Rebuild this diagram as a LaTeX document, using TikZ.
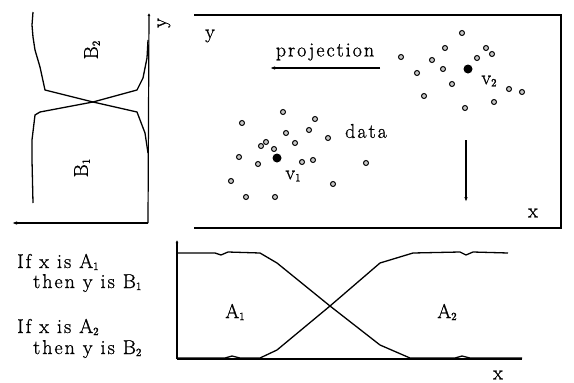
\documentclass[tikz,border=0pt]{standalone}
\usepackage{fontspec}
\setmainfont{Latin Modern Roman}[LetterSpace=10,FakeBold=1]
\usetikzlibrary{arrows.meta}

\newcommand{\sub}[1]{\raisebox{-2pt}{\fontsize{11}{11}\selectfont #1}}

\begin{document}
\begin{tikzpicture}[x=1pt,y=-1pt,>={Latex[length=5pt,width=3.5pt]},
    lbl/.style={font=\fontsize{20}{22}\selectfont,inner sep=0pt},
    curve/.style={line width=1.3pt,line join=round},
    axis/.style={line width=1.2pt},
    dot/.style={circle,draw,line width=1pt,fill=gray!45,inner sep=0pt,minimum size=5pt},
    centre/.style={circle,fill=black,inner sep=0pt,minimum size=9pt}]
  \useasboundingbox (0,0) rectangle (574,383);

  % membership functions of y (turned on their side)
  \coordinate (yorig) at (148,223);
  \coordinate (ytop) at (149,13);
  \coordinate (mul) at (12,223);
  \draw[axis,-{Latex[length=3pt,width=3pt]}] (yorig) -- (ytop);
  \draw[axis,->] (yorig) -- (mul);
  \draw[curve] (33,12) -- (32,25) -- (33,37) -- (35,50) -- (40,67) -- (45,90) -- (93,102) -- (137,112) -- (145,133) -- (148,153);
  \draw[curve] (33,203) -- (32,160) -- (32,140) -- (35,115) -- (40,112) -- (93,102) -- (137,90) -- (143,78) -- (147,58) -- (148,40);
  \node[lbl,rotate=90] (bb2) at (92,50) {B\sub{2}};
  \node[lbl,rotate=90] (bb1) at (82,168) {B\sub{1}};
  \node[lbl,rotate=90] (ylab) at (164,23) {y};

  % data space
  \draw[axis] (194,15) -- (561,15) -- (561,228) -- (194,228);
  \node[lbl] (ybox) at (210,36) {y};
  \node[lbl] (xbox) at (533,213) {x};
  \node[lbl] (proj) at (325,52) {projection};
  \node[lbl] (data) at (366,131) {data};
  \coordinate (pjs) at (380,68);
  \coordinate (pje) at (270,68);
  \draw[axis,->] (pjs) -- (pje);
  \coordinate (dws) at (466,140);
  \coordinate (dwe) at (466,202);
  \draw[axis,->] (dws) -- (dwe);

  \foreach \p [count=\i] in {(242,123),(283,112),(315,119),(286,133),(309,130),(328,138),
      (295,143),(261,146),(266,142),(274,149),(239,157),(258,164),(302,162),(313,160),
      (366,163),(231,181),(333,184),(246,197),(275,197)}
    \node[dot] (da\i) at \p {};
  \foreach \p [count=\i] in {(462,33),(445,48),(486,48),(492,54),(477,58),(401,57),
      (432,60),(443,69),(417,73),(452,84),(424,96),(465,108),(494,102),(509,89),(522,92)}
    \node[dot] (db\i) at \p {};
  \node[centre] (v1) at (277,158) {};
  \node[centre] (v2) at (468,69) {};
  \node[lbl] (v1lab) at (293,176) {v\sub{1}};
  \node[lbl] (v2lab) at (489,81) {v\sub{2}};

  % membership functions of x
  \coordinate (xorig) at (177,359);
  \coordinate (xtop) at (177,240);
  \coordinate (xend) at (522,359);
  \draw[axis,-{Latex[length=3pt,width=3pt]}] (xorig) -- (xtop);
  \draw[axis] (xorig) -- (xend);
  \draw[curve] (177,253) -- (215,253) -- (221,255) -- (228,252) -- (260,253) -- (277,263) -- (330,306) -- (380,345) -- (410,358) -- (455,358) -- (462,356) -- (470,358) -- (522,358);
  \draw[curve] (177,358) -- (225,358) -- (232,356) -- (240,358) -- (260,358) -- (277,350) -- (330,306) -- (380,263) -- (413,253) -- (460,252) -- (466,255) -- (473,252) -- (508,253);
  \node[lbl] (aa1) at (235,312) {A\sub{1}};
  \node[lbl] (aa2) at (447,312) {A\sub{2}};
  \node[lbl] (xlab) at (498,375) {x};

  % rules
  \node[lbl,anchor=base west] (rule1) at (17,268) {If x is A\sub{1}};
  \node[lbl,anchor=base west] (then1) at (33,288) {then y is B\sub{1}};
  \node[lbl,anchor=base west] (rule2) at (17,333) {If x is A\sub{2}};
  \node[lbl,anchor=base west] (then2) at (33,354) {then y is B\sub{2}};
\end{tikzpicture}
\end{document}
